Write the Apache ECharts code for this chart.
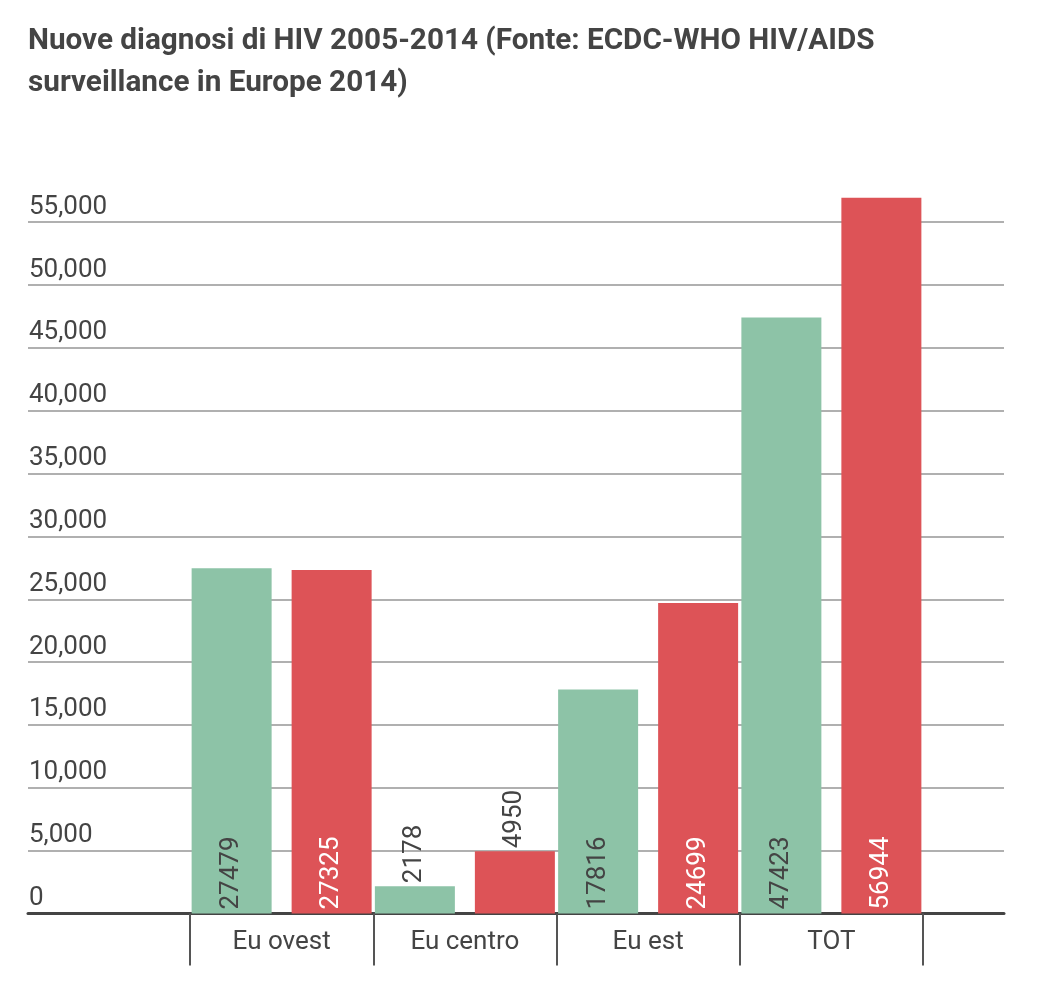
<!DOCTYPE html>
<html>
<head>
<meta charset="utf-8">
<script src="https://cdn.jsdelivr.net/npm/echarts@6/dist/echarts.min.js"></script>
<style>
html,body{margin:0;padding:0;background:#fff;}
#chart{width:1050px;height:1000px;}
</style>
</head>
<body>
<div id="chart"></div>
<script>
var titleText = 'Nuove diagnosi di HIV 2005-2014 (Fonte: ECDC-WHO HIV/AIDS\nsurveillance in Europe 2014)';
var categories = ['Eu ovest', 'Eu centro', 'Eu est', 'TOT'];
var seriesNames = ['2005', '2014'];
var greenValues = [27479, 2178, 17816, 47423];
var redValues = [27325, 4950, 24699, 56944];
var yMax = 60000;
var yInterval = 5000;

var FONT = 'Roboto';
var TXT = '#444';
var GREEN = '#8dc3a7';
var RED = '#dd5357';

function buildData(values, insideColor) {
  return values.map(function (v) {
    var outside = v < 8000;
    return {
      value: v,
      label: {
        position: outside ? 'top' : 'insideBottom',
        distance: outside ? 3 : 4,
        color: outside ? TXT : insideColor
      }
    };
  });
}

var labelBase = {
  show: true,
  rotate: 90,
  align: 'left',
  verticalAlign: 'middle',
  fontFamily: FONT,
  fontSize: 26
};

var chart = echarts.init(document.getElementById('chart'), null, {renderer: 'canvas'});
chart.setOption({
  animation: false,
  backgroundColor: '#fff',
  title: {
    text: titleText,
    left: 28,
    top: 21,
    padding: 0,
    textStyle: {
      fontFamily: FONT,
      fontSize: 29.7,
      fontWeight: 'bold',
      color: TXT,
      lineHeight: 42
    }
  },
  grid: [
    {left: 28, right: 46, top: 159.4, bottom: 86.5, containLabel: false},
    {left: 190, right: 127, top: 159.4, bottom: 86.5, containLabel: false}
  ],
  xAxis: [
    {
      gridIndex: 0,
      type: 'category',
      data: [''],
      axisLine: {show: true, lineStyle: {color: '#444', width: 3}},
      axisTick: {show: false},
      axisLabel: {show: false},
      splitLine: {show: false}
    },
    {
      gridIndex: 1,
      type: 'category',
      data: categories,
      axisLine: {show: false},
      axisTick: {show: true, interval: 0, length: 52, lineStyle: {color: '#555', width: 2}},
      axisLabel: {
        interval: 0,
        margin: 16,
        fontFamily: FONT,
        fontSize: 26,
        color: TXT
      },
      splitLine: {show: false}
    }
  ],
  yAxis: [
    {
      gridIndex: 0,
      type: 'value',
      min: 0,
      max: yMax,
      interval: yInterval,
      axisLine: {show: false},
      axisTick: {show: false},
      axisLabel: {
        inside: true,
        margin: 1,
        showMaxLabel: false,
        verticalAlign: 'bottom',
        lineHeight: 26,
        padding: [0, 0, 2, 0],
        fontFamily: FONT,
        fontSize: 26,
        color: TXT,
        formatter: function (v) { return v.toLocaleString('en-US'); }
      },
      splitLine: {show: true, showMaxLine: false, lineStyle: {color: '#b0b0b0', width: 2}}
    },
    {
      gridIndex: 1,
      type: 'value',
      min: 0,
      max: yMax,
      interval: yInterval,
      show: false,
      splitLine: {show: false}
    }
  ],
  series: [
    {
      name: seriesNames[0],
      type: 'bar',
      xAxisIndex: 1,
      yAxisIndex: 1,
      barWidth: 80,
      barGap: '25%',
      itemStyle: {color: GREEN},
      label: labelBase,
      data: buildData(greenValues, TXT),
      z: 3
    },
    {
      name: seriesNames[1],
      type: 'bar',
      xAxisIndex: 1,
      yAxisIndex: 1,
      barWidth: 80,
      barGap: '25%',
      itemStyle: {color: RED},
      label: labelBase,
      data: buildData(redValues, '#fff'),
      z: 3
    }
  ]
});
</script>
</body>
</html>
